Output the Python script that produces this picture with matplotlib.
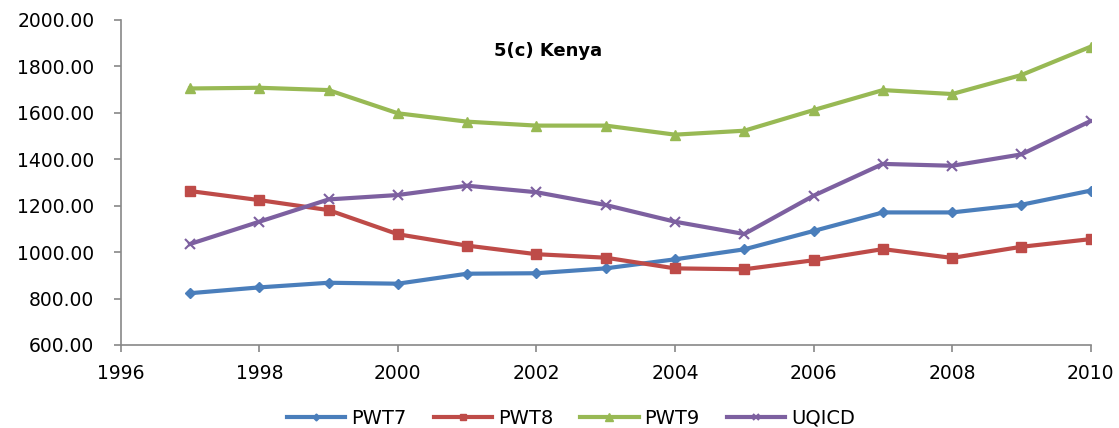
import matplotlib
matplotlib.use("Agg")
import matplotlib.pyplot as plt
from matplotlib.ticker import FormatStrFormatter, MultipleLocator

years = list(range(1997, 2011))
pwt7 = [823, 848, 868, 864, 907, 909, 930, 969, 1012, 1091, 1171, 1171, 1204, 1265]
pwt8 = [1263, 1224, 1181, 1077, 1028, 991, 976, 930, 926, 965, 1013, 975, 1023, 1056]
pwt9 = [1705, 1708, 1698, 1598, 1562, 1545, 1545, 1506, 1523, 1612, 1698, 1681, 1763, 1885]
uqicd = [1035, 1131, 1227, 1246, 1286, 1258, 1203, 1131, 1078, 1243, 1380, 1372, 1421, 1565]

series = [
    ("PWT7", pwt7, "#4A7EBB", "D", 5),
    ("PWT8", pwt8, "#BE4B48", "s", 7),
    ("PWT9", pwt9, "#98B954", "^", 7.5),
    ("UQICD", uqicd, "#7D60A0", "x", 7),
]

fig = plt.figure(figsize=(11.19, 4.28), dpi=100)
ax = fig.add_axes([0.1079, 0.194, 0.8668, 0.7593])

for name, vals, color, marker, ms in series:
    ax.plot(years, vals, color=color, lw=3.0, marker=marker, markersize=ms,
            markeredgewidth=1.5 if marker == "x" else 1, label=name)

ax.set_xlim(1996, 2010)
ax.set_ylim(600, 2000)
ax.xaxis.set_major_locator(MultipleLocator(2))
ax.yaxis.set_major_locator(MultipleLocator(200))
ax.yaxis.set_major_formatter(FormatStrFormatter("%.2f"))

for side in ("top", "right"):
    ax.spines[side].set_visible(False)
for side in ("left", "bottom"):
    ax.spines[side].set_color("#888888")
    ax.spines[side].set_linewidth(1.2)
ax.tick_params(axis="both", colors="#888888", labelcolor="black", labelsize=13.5,
               length=5, width=1.2)
ax.tick_params(axis="y", pad=14)
ax.tick_params(axis="x", pad=9)

ax.text(0.4405, 0.905, "5(c) Kenya", transform=ax.transAxes, ha="center", va="center",
        fontsize=13, fontweight="bold")

fig.legend(loc="center", bbox_to_anchor=(571 / 1119, 1 - 418 / 428), ncol=4, frameon=False,
           fontsize=14, handlelength=3.0, handletextpad=0.3, columnspacing=1.4,
           markerscale=0.7)

fig.savefig("out.png", dpi=100)
